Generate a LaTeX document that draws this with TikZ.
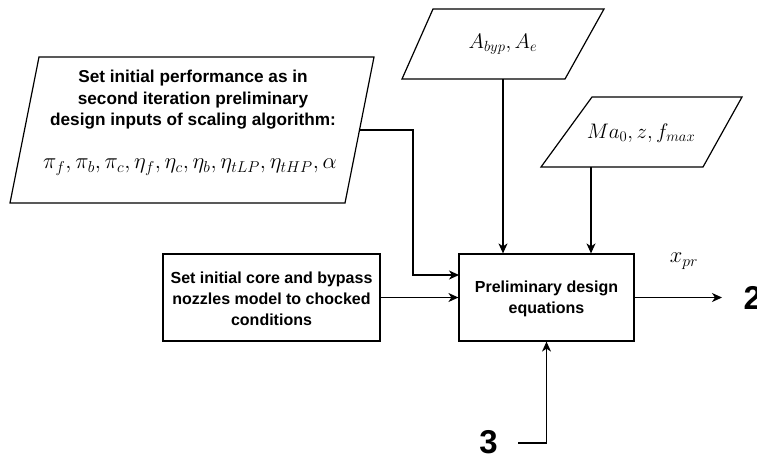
\RequirePackage{fix-cm}
\documentclass[tikz,border=0pt]{standalone}
\usepackage{fontspec}
\setmainfont{Liberation Sans}
\usetikzlibrary{arrows.meta}
\begin{document}
\begin{tikzpicture}[x=1pt,y=-1pt,line width=1.2pt,
  box/.style={draw,line width=1.2pt,inner sep=0pt},
  txt/.style={font=\fontsize{16}{21}\selectfont\bfseries,align=center,inner sep=0pt},
  bigtxt/.style={font=\fontsize{17.2}{21.5}\selectfont\bfseries,align=center,inner sep=0pt},
  mth/.style={font=\fontsize{22.5}{26}\selectfont,inner sep=0pt},
  smth/.style={font=\fontsize{21}{25}\selectfont,inner sep=0pt},
  arr/.style={-{Stealth[length=10pt,width=9pt,inset=3pt]}},
  bignum/.style={font=\fontsize{33}{36}\selectfont\bfseries,inner sep=0pt}]
\useasboundingbox (0,0) rectangle (757,459);

% input parallelogram (performance)
\draw (39,57) -- (374,57) -- (345,203) -- (10,203) -- cycle;
\node[bigtxt] (perfT) at (193,100) {Set initial performance as in\\second iteration preliminary\\design inputs of scaling algorithm:};
\node[mth] (perfM) at (190,167) {$\pi_f,\pi_b,\pi_c,\eta_f,\eta_c,\eta_b,\eta_{tLP},\eta_{tHP},\alpha$};
\coordinate (perfOut) at (359.5,130);
\coordinate (perfBend) at (413,130);

% A_byp parallelogram
\draw (433,9) -- (604,9) -- (565,79) -- (402,79) -- cycle;
\node[smth] (abyp) at (503,44) {$A_{byp},A_e$};
\coordinate (abypOut) at (503,79);

% Ma0 parallelogram
\draw (592,97) -- (742,97) -- (703,167) -- (541,167) -- cycle;
\node[smth] (ma) at (641,133) {$Ma_0,z,f_{max}$};
\coordinate (maOut) at (591,167);

% boxes
\node[box,minimum width=217pt,minimum height=87pt] (noz) at (271.5,297.5) {};
\node[txt] (nozT) at (271.5,299) {Set initial core and bypass\\nozzles model to chocked\\conditions};
\node[box,minimum width=175pt,minimum height=87pt] (prelim) at (546.5,297.5) {};
\node[txt] (prelimT) at (546.5,299) {Preliminary design\\equations};

\coordinate (in1) at (459,275);
\coordinate (outEnd) at (722,297.5);
\node[mth] (xpr) at (684,261) {$x_{pr}$};
\node[bignum,anchor=west] (two) at (743,297.5) {2};
\node[bignum] (three) at (488.5,442) {3};
\coordinate (threeOut) at (518,443);

% connectors
\draw[arr] (perfOut) -- (perfBend) |- (in1);
\draw[arr] (noz.east) -- (prelim.west);
\draw[arr] (abypOut) -- (abypOut |- prelim.north);
\draw[arr] (maOut) -- (maOut |- prelim.north);
\draw[arr] (prelim.east) -- (outEnd);
\draw[arr] (threeOut) -| (prelim.south);
\end{tikzpicture}
\end{document}
